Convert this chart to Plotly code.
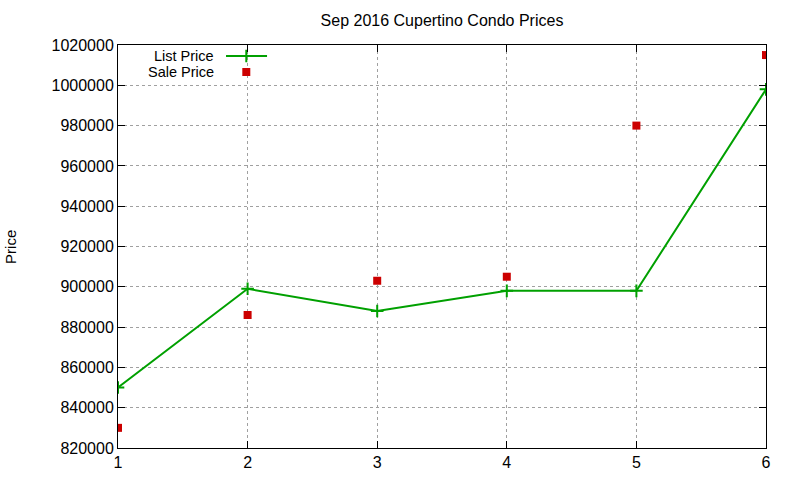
import plotly.graph_objects as go

# Data
months = [1, 2, 3, 4, 5, 6]
list_price = [850000, 899000, 888000, 898000, 898000, 998000]
sale_price = [830000, 886000, 903000, 905000, 980000, 1015000]

GREEN = '#00a000'
RED = '#cc0000'
FONT = 'Liberation Sans, Arial, sans-serif'

fig = go.Figure()

fig.add_trace(go.Scatter(
    x=months, y=list_price, name='List Price', mode='lines+markers',
    line=dict(color=GREEN, width=2),
    marker=dict(symbol='cross-thin', size=9, line=dict(color=GREEN, width=2)),
    showlegend=False
))
fig.add_trace(go.Scatter(
    x=months, y=sale_price, name='Sale Price', mode='markers',
    marker=dict(symbol='square', size=8, color=RED),
    showlegend=False
))

# gnuplot-style key: label on the left, sample on the right
key_rows = [0.9727, 0.933]
fig.add_trace(go.Scatter(
    x=[0.1667, 0.23], y=[key_rows[0], key_rows[0]], mode='lines',
    xaxis='x2', yaxis='y2',
    line=dict(color=GREEN, width=2), showlegend=False, hoverinfo='skip'
))
fig.add_trace(go.Scatter(
    x=[0.198], y=[key_rows[0]], mode='markers', xaxis='x2', yaxis='y2',
    marker=dict(symbol='cross-thin', size=9, line=dict(color=GREEN, width=2)),
    showlegend=False, hoverinfo='skip'
))
fig.add_trace(go.Scatter(
    x=[0.198], y=[key_rows[1]], mode='markers', xaxis='x2', yaxis='y2',
    marker=dict(symbol='square', size=8, color=RED),
    showlegend=False, hoverinfo='skip'
))
for label, yy in zip(['List Price', 'Sale Price'], key_rows):
    fig.add_annotation(x=0.151, y=yy, xref='paper', yref='paper', text=label,
                       showarrow=False, xanchor='right', yanchor='middle',
                       font=dict(size=14.5, color='black', family=FONT))

# y axis label drawn as a rotated annotation, like gnuplot puts it
fig.add_annotation(x=-0.166, y=0.5, xref='paper', yref='paper', text='Price',
                   textangle=-90, showarrow=False, xanchor='center',
                   yanchor='middle', font=dict(size=15, color='black', family=FONT))

axis_common = dict(
    showline=True, linecolor='black', linewidth=1, mirror='ticks',
    ticks='inside', ticklen=7, tickcolor='black',
    showgrid=True, gridcolor='#a0a0a0', griddash='dot', gridwidth=1,
    zeroline=False, tickfont=dict(size=16, color='black', family=FONT),
)

fig.update_layout(
    width=800, height=480,
    margin=dict(l=118, r=34, t=45, b=32),
    paper_bgcolor='white', plot_bgcolor='white',
    font=dict(family=FONT, color='black'),
    title=dict(text='Sep 2016 Cupertino Condo Prices', x=0.5, xref='paper',
               y=0.958, yanchor='middle', font=dict(size=16, family=FONT)),
    xaxis=dict(range=[1, 6], dtick=1, automargin=False, **axis_common),
    yaxis=dict(range=[820000, 1020000], dtick=20000, tickformat='d',
               automargin=False, **axis_common),
    xaxis2=dict(range=[0, 1], overlaying='x', visible=False, fixedrange=True),
    yaxis2=dict(range=[0, 1], overlaying='y', visible=False, fixedrange=True),
)

# drop the default page margin so the figure sits at the window corner
fig.write_html('out.html', config={'displayModeBar': False},
               post_script="document.body.style.margin='0';")
